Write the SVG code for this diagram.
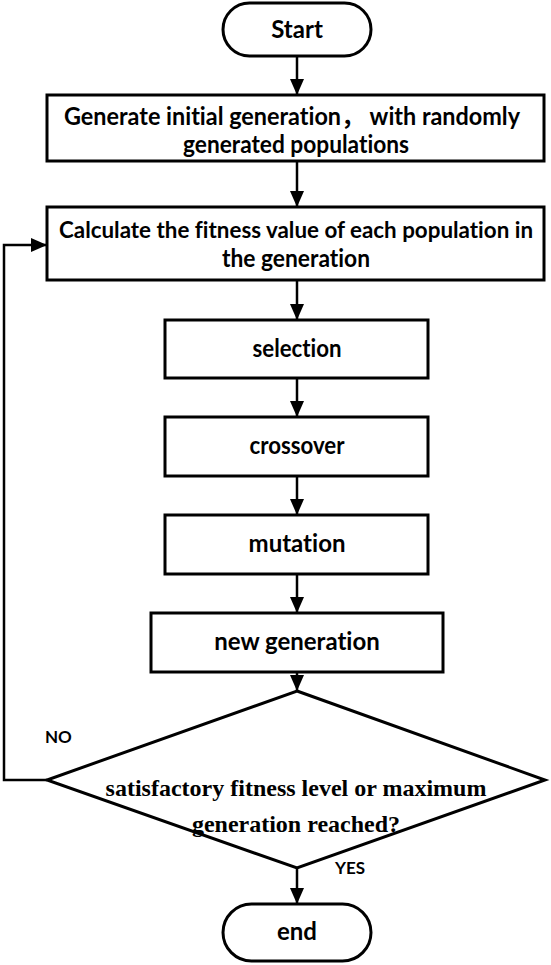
<svg xmlns="http://www.w3.org/2000/svg" width="551" height="965" viewBox="0 0 551 965">
<defs>
<marker id="ah" markerUnits="userSpaceOnUse" markerWidth="16" markerHeight="16" refX="16" refY="7" orient="auto">
<path d="M0,0 L16,7 L0,14 Z" fill="#000"/>
</marker>
<style>
.shape{fill:#fff;stroke:#000;stroke-width:3}
.lbl{font-family:Lato,"Noto Sans CJK SC",sans-serif;font-weight:bold;font-size:24px;fill:#000;text-anchor:middle;font-variant-ligatures:none}
.small{font-family:Lato,sans-serif;font-weight:bold;font-size:17px;fill:#000}
.serif{font-family:"Liberation Serif","Times New Roman",serif;font-weight:bold;font-size:24px;fill:#000;text-anchor:middle}
.conn{fill:none;stroke:#000;stroke-width:2.5}
</style>
</defs>
<rect width="551" height="965" fill="#fff"/>
<g id="connectors">
<path class="conn" d="M297,56 V95" marker-end="url(#ah)"/>
<path class="conn" d="M297,161 V207" marker-end="url(#ah)"/>
<path class="conn" d="M297,280 V320" marker-end="url(#ah)"/>
<path class="conn" d="M297,378 V417" marker-end="url(#ah)"/>
<path class="conn" d="M297,476 V515" marker-end="url(#ah)"/>
<path class="conn" d="M297,574 V613" marker-end="url(#ah)"/>
<path class="conn" d="M297,672 V691" marker-end="url(#ah)"/>
<path class="conn" d="M297,868 V904" marker-end="url(#ah)"/>
<path class="conn" d="M47,780 H4 V245 H47" marker-end="url(#ah)"/>
<text class="small" x="45" y="743">NO</text>
<text class="small" x="335" y="874">YES</text>
</g>
<g id="start">
<rect class="shape" x="223" y="3" width="148" height="53" rx="26.5"/>
<text class="lbl" x="297" y="38">Start</text>
</g>
<g id="init">
<rect class="shape" x="47" y="95" width="497" height="66"/>
<text class="lbl" x="292" y="125" textLength="456" lengthAdjust="spacingAndGlyphs">Generate initial generation， with randomly</text>
<text class="lbl" x="296" y="153" textLength="226" lengthAdjust="spacingAndGlyphs">generated populations</text>
</g>
<g id="fitness">
<rect class="shape" x="47" y="207" width="497" height="73"/>
<text class="lbl" x="296" y="238" style="font-size:22px" textLength="474" lengthAdjust="spacingAndGlyphs">Calculate the fitness value of each population in</text>
<text class="lbl" x="296" y="267" textLength="148" lengthAdjust="spacingAndGlyphs">the generation</text>
</g>
<g id="selection">
<rect class="shape" x="165" y="320" width="263" height="58"/>
<text class="lbl" x="297" y="357" textLength="89" lengthAdjust="spacingAndGlyphs">selection</text>
</g>
<g id="crossover">
<rect class="shape" x="165" y="417" width="263" height="59"/>
<text class="lbl" x="297" y="454" textLength="95" lengthAdjust="spacingAndGlyphs">crossover</text>
</g>
<g id="mutation">
<rect class="shape" x="165" y="515" width="263" height="59"/>
<text class="lbl" x="297" y="552">mutation</text>
</g>
<g id="newgen">
<rect class="shape" x="151" y="613" width="292" height="59"/>
<text class="lbl" x="297" y="650">new generation</text>
</g>
<g id="decision">
<polygon class="shape" points="297,691 545,780 297,868 47,780"/>
<text class="serif" x="296" y="796">satisfactory fitness level or maximum</text>
<text class="serif" x="296" y="832">generation reached?</text>
</g>
<g id="end">
<rect class="shape" x="223" y="904" width="148" height="57" rx="28.5"/>
<text class="lbl" x="297" y="940">end</text>
</g>
</svg>
